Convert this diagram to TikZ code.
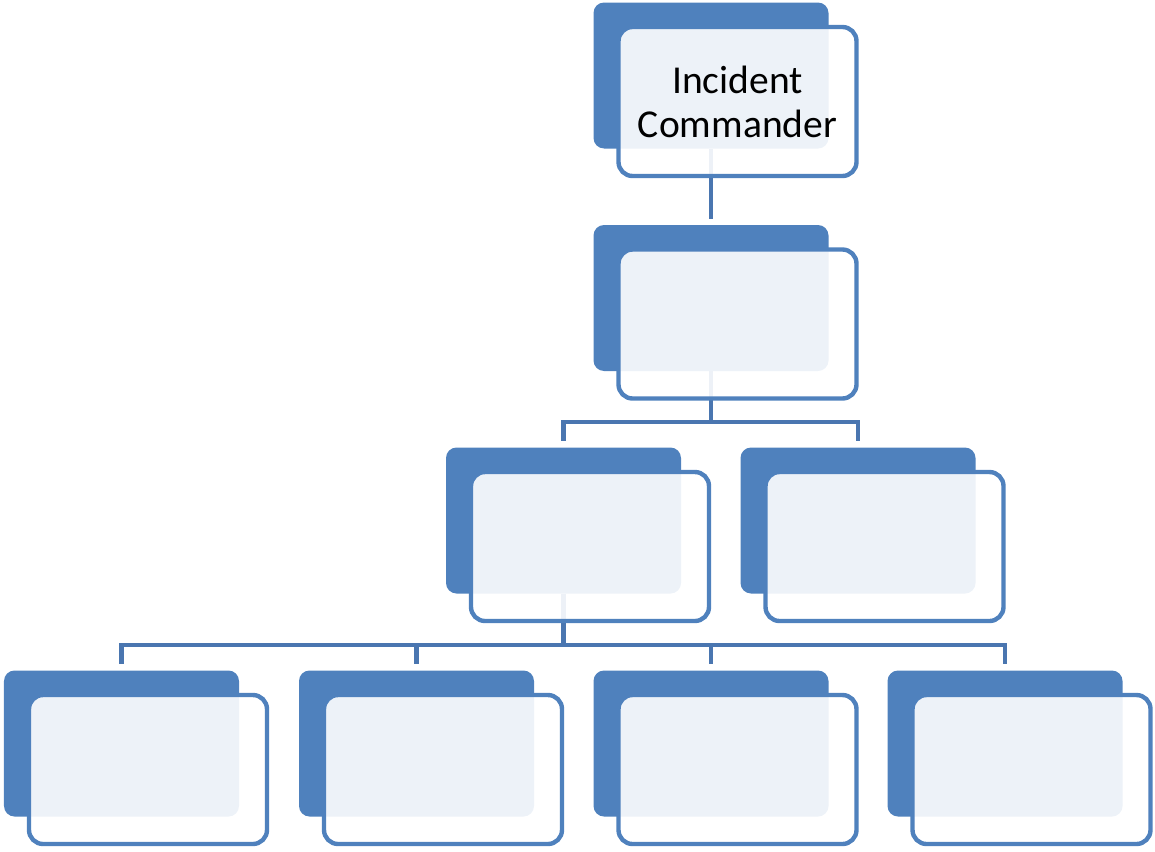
\documentclass[tikz,border=0pt]{standalone}
\usepackage{fontspec}
\setmainfont{Carlito}
\usepackage{tikz}
\usetikzlibrary{calc}
\definecolor{accblue}{HTML}{4F81BD}
\definecolor{linkblue}{HTML}{4A76B0}
\tikzset{
  backbox/.style  = {rounded corners=6pt, fill=accblue, draw=none,
                     minimum width=4.7cm, minimum height=2.92cm, inner sep=0pt},
  frontbox/.style = {rounded corners=8pt, draw=accblue, line width=2.5pt,
                     fill=white, fill opacity=0.9, text opacity=1,
                     minimum width=4.76cm, minimum height=2.98cm, inner sep=0pt,
                     align=center, font=\fontsize{22.5}{25}\selectfont},
  link/.style     = {draw=linkblue, line width=2.6pt, shorten >=0.12cm},
}
\begin{document}
\begin{tikzpicture}
  \useasboundingbox (0,0) rectangle (23.1,-17.02);
  % back boxes
  \node[backbox] (b1) at (14.22,-1.51) {};
  \node[backbox] (b2) at (14.22,-5.96) {};
  \node[backbox] (b3a) at (11.27,-10.41) {};
  \node[backbox] (b3b) at (17.16,-10.41) {};
  \foreach \i/\x in {1/2.43,2/8.33,3/14.22,4/20.10} {
     \node[backbox] (b4\i) at (\x,-14.87) {};
  }
  % connectors (behind the front boxes)
  \draw[link] (b1.south) -- (b2.north);
  \draw[link] (b2.south) |- ([yshift=5mm]b3a.north) -- (b3a.north);
  \draw[link] (b2.south) |- ([yshift=5mm]b3b.north) -- (b3b.north);
  \foreach \i in {1,...,4} {
     \draw[link] (b3a.south) |- ([yshift=5mm]b4\i.north) -- (b4\i.north);
  }
  % front boxes
  \node[frontbox] (f1) at ($(b1)+(0.53,-0.52)$) {Incident\\Commander};
  \node[frontbox] (f2) at ($(b2)+(0.53,-0.52)$) {};
  \node[frontbox] (f3a) at ($(b3a)+(0.53,-0.52)$) {};
  \node[frontbox] (f3b) at ($(b3b)+(0.53,-0.52)$) {};
  \foreach \i in {1,...,4} {
     \node[frontbox] (f4\i) at ($(b4\i)+(0.53,-0.52)$) {};
  }
\end{tikzpicture}
\end{document}
